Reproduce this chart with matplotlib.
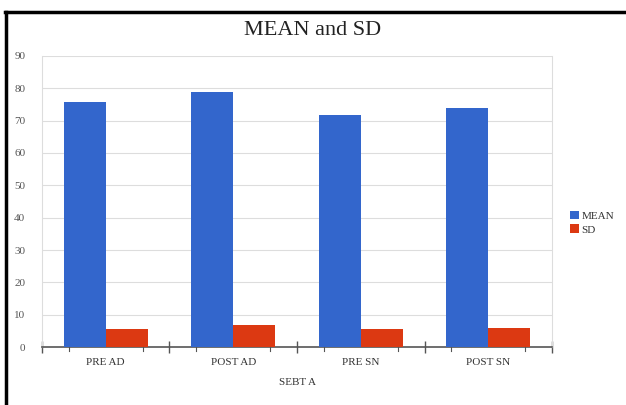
import numpy as np
import matplotlib
matplotlib.use('Agg')
import matplotlib.pyplot as plt
from matplotlib.lines import Line2D

#
# Chart data.
#
categories = ['PRE AD', 'POST AD', 'PRE SN', 'POST SN']
mean_values = [75.7, 78.7, 71.8, 74.0]
sd_values = [5.7, 6.9, 5.7, 6.0]
series_names = ['MEAN', 'SD']
y_ticks = list(range(0, 91, 10))

blue = '#3366cc'
red = '#dc3912'

plt.rcParams['font.family'] = ['Liberation Serif', 'DejaVu Serif']

fig = plt.figure(figsize=(6.26, 4.05), dpi=100)
ax = fig.add_axes([0.067, 0.143, 0.815, 0.719])

x = np.arange(len(categories))
width = 0.33
ax.bar(x - width / 2, mean_values, width, color=blue, label=series_names[0], zorder=3)
ax.bar(x + width / 2, sd_values, width, color=red, label=series_names[1], zorder=3)

ax.set_xlim(-0.5, len(categories) - 0.5)
ax.set_ylim(0, 90)
ax.set_yticks(y_ticks)
ax.yaxis.grid(True, color='#dddddd', linewidth=0.8, zorder=0)

# category boundaries as major ticks, small ticks inside each group
ax.set_xticks(np.arange(len(categories) + 1) - 0.5)
ax.set_xticklabels([])
ax.set_xticks(x, minor=True)
ax.set_xticklabels(categories, minor=True)
ax.tick_params(axis='x', which='major', direction='inout', length=8, color='#555555', width=1)
ax.tick_params(axis='x', which='minor', length=0, pad=8, labelsize=8, labelcolor='#333333')
ax.tick_params(axis='y', length=0, labelsize=8, labelcolor='#555555', pad=12)

inner = np.concatenate([x - 0.29, x + 0.29])
for xi in inner:
    ax.plot([xi, xi], [0, -1.2], color='#555555', linewidth=0.8, clip_on=False, zorder=4)

for side in ['left', 'right', 'top']:
    ax.spines[side].set_color('#dddddd')
ax.spines['top'].set_visible(False)
ax.spines['bottom'].set_color('#555555')
ax.spines['bottom'].set_linewidth(1.2)

ax.set_xlabel('SEBT A', fontsize=8, color='#333333', labelpad=8)

fig.text(0.5, 0.925, 'MEAN and SD', ha='center', va='center', fontsize=16, color='#222222')

leg = fig.legend(loc='center left', bbox_to_anchor=(0.895, 0.45), frameon=False,
                 fontsize=8, handlelength=0.8, handleheight=0.8,
                 handletextpad=0.2, labelspacing=0.3)
for t in leg.get_texts():
    t.set_color('#333333')

# outer frame (left and top edges visible)
fig.add_artist(Line2D([0.010, 0.010], [0.0, 0.97], transform=fig.transFigure, color='black', linewidth=2.5))
fig.add_artist(Line2D([0.008, 1.0], [0.97, 0.97], transform=fig.transFigure, color='black', linewidth=2.5))

fig.savefig('out.png', dpi=100)
